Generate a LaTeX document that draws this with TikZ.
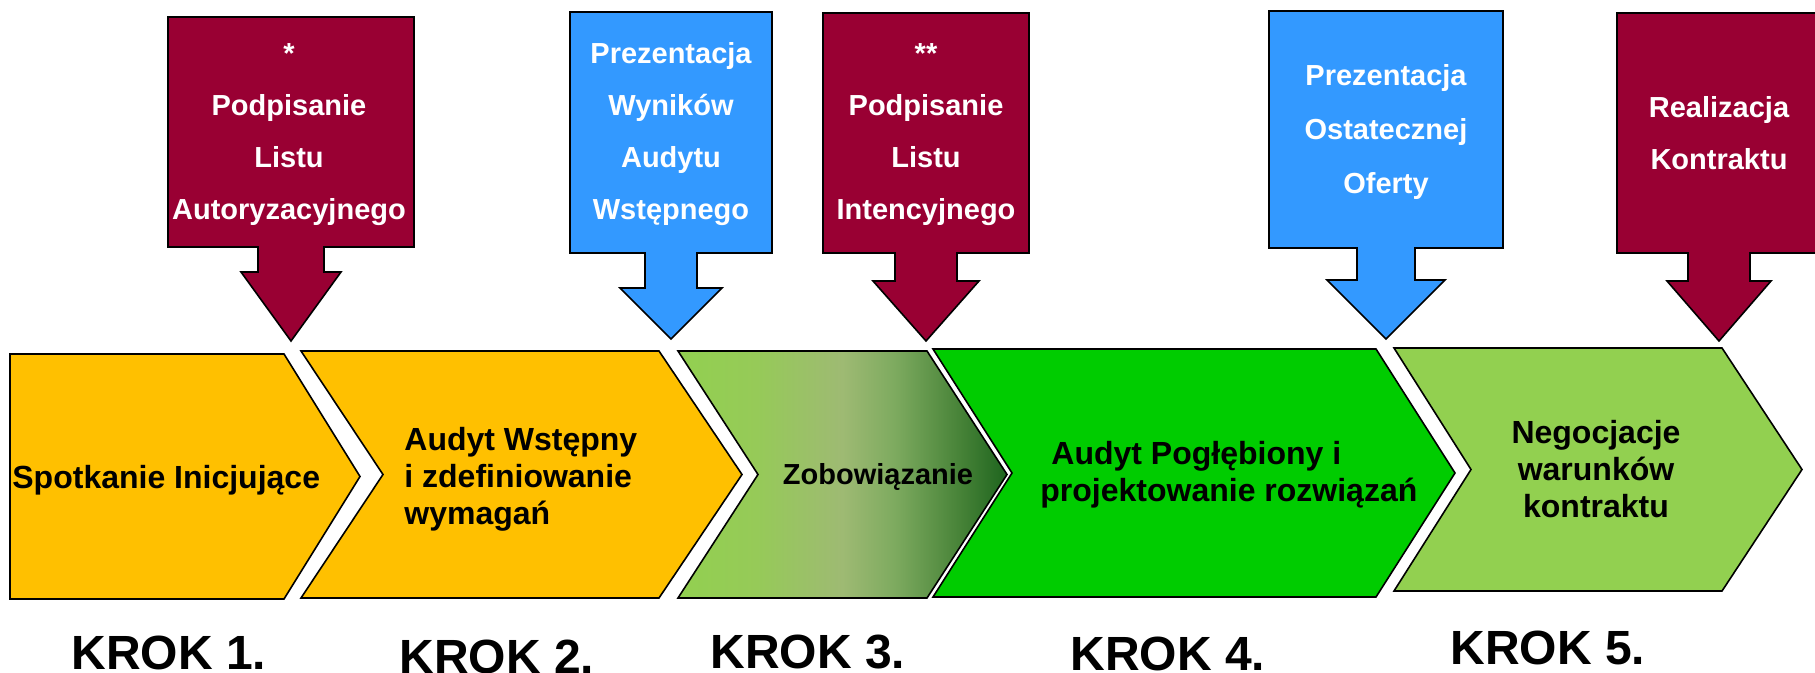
\documentclass[tikz,border=0pt]{standalone}
\usepackage{fontspec}
\setmainfont{Liberation Sans}
\definecolor{callred}{HTML}{990033}
\definecolor{callblue}{HTML}{3399FF}
\definecolor{stepyellow}{HTML}{FFC000}
\definecolor{stepgreen}{HTML}{00CC00}
\definecolor{steplight}{HTML}{92D050}
\definecolor{zobA}{RGB}{150,202,88}
\definecolor{zobB}{RGB}{158,186,115}
\definecolor{zobC}{RGB}{125,170,95}
\definecolor{zobD}{RGB}{70,130,55}
\definecolor{zobE}{RGB}{30,100,30}
\pgfdeclarehorizontalshading{zobowiazanie}{100bp}{color(0bp)=(steplight); color(25bp)=(steplight); color(37bp)=(zobA); color(50bp)=(zobB); color(58bp)=(zobC); color(68bp)=(zobD); color(75bp)=(zobE); color(100bp)=(zobE)}

\begin{document}
\begin{tikzpicture}[x=0.5pt,y=-0.5pt]
\tikzset{outline/.style={draw=black, line width=0.8pt}}
\tikzset{boxtext/.style={text=white, font=\bfseries\fontsize{14.5}{26}\selectfont, align=center, anchor=base, inner sep=0pt}}
\tikzset{steptext/.style={font=\bfseries\fontsize{16}{18.5}\selectfont, inner sep=0pt}}
\tikzset{krok/.style={font=\bfseries\fontsize{24}{28}\selectfont, anchor=base, inner sep=0pt}}
\useasboundingbox (0,0) rectangle (1815,673);

\foreach \xl/\xn/\xr/\xt/\yt/\yb/\col in {10/10/284/360/354/599/stepyellow, 301/383/659/742/351/598/stepyellow, 933/1012/1376/1455/349/597/stepgreen, 1394/1471/1722/1802/348/591/steplight}
  \draw[outline, fill=\col] (\xl,\yt) -- (\xr,\yt) -- (\xt,{(\yt+\yb)/2}) -- (\xr,\yb) -- (\xl,\yb) -- (\xn,{(\yt+\yb)/2}) -- cycle;
\draw[outline, shading=zobowiazanie] (678,351) -- (927,351) -- (1007,474.5) -- (927,598) -- (678,598) -- (758,474.5) -- cycle;

\foreach \cx/\bw/\bt/\bb/\sw/\sb/\ww/\ty/\col in {291/123/17/247/33/272/50/341/callred, 671/101/12/253/26/288/51/339/callblue, 926/103/13/253/31/281/53/341/callred, 1386/117/11/248/29/280/59/339/callblue, 1719/102/13/253/31/281/52/341/callred}
  \draw[outline, fill=\col] (\cx-\bw,\bt) -- (\cx+\bw,\bt) -- (\cx+\bw,\bb) -- (\cx+\sw,\bb) -- (\cx+\sw,\sb) -- (\cx+\ww,\sb) -- (\cx,\ty) -- (\cx-\ww,\sb) -- (\cx-\sw,\sb) -- (\cx-\sw,\bb) -- (\cx-\bw,\bb) -- cycle;

\node[boxtext] (autoryzacja) at (289,220) {*\\Podpisanie\\Listu\\Autoryzacyjnego};
\node[boxtext] (wyniki) at (671,220) {Prezentacja\\Wyników\\Audytu\\Wstępnego};
\node[boxtext] (intencja) at (926,220) {**\\Podpisanie\\Listu\\Intencyjnego};
\node[boxtext, font=\bfseries\fontsize{14.5}{27}\selectfont] (oferta) at (1386,194) {Prezentacja\\Ostatecznej\\Oferty};
\node[boxtext] (realizacja) at (1719,170) {Realizacja\\Kontraktu};

\node[steptext, anchor=base west] (spotkanie) at (12,488) {Spotkanie Inicjujące};
\node[steptext, anchor=base west, align=left] (audyt) at (404,524) {Audyt Wstępny\\i zdefiniowanie\\wymagań};
\node[steptext, anchor=base, font=\bfseries\fontsize{14.5}{18}\selectfont] (zobowiazanie) at (878,485) {Zobowiązanie};
\node[steptext, anchor=base west, align=left] (poglebiony) at (1040,502) {\hspace*{5.5pt}Audyt Pogłębiony i\\projektowanie rozwiązań};
\node[steptext, anchor=base, align=center] (negocjacje) at (1596,517) {Negocjacje\\warunków\\kontraktu};

\node[krok] (krok1) at (169,669) {KROK 1.};
\node[krok] (krok2) at (497,673) {KROK 2.};
\node[krok] (krok3) at (808,668) {KROK 3.};
\node[krok] (krok4) at (1168,670) {KROK 4.};
\node[krok] (krok5) at (1548,664) {KROK 5.};
\end{tikzpicture}
\end{document}
